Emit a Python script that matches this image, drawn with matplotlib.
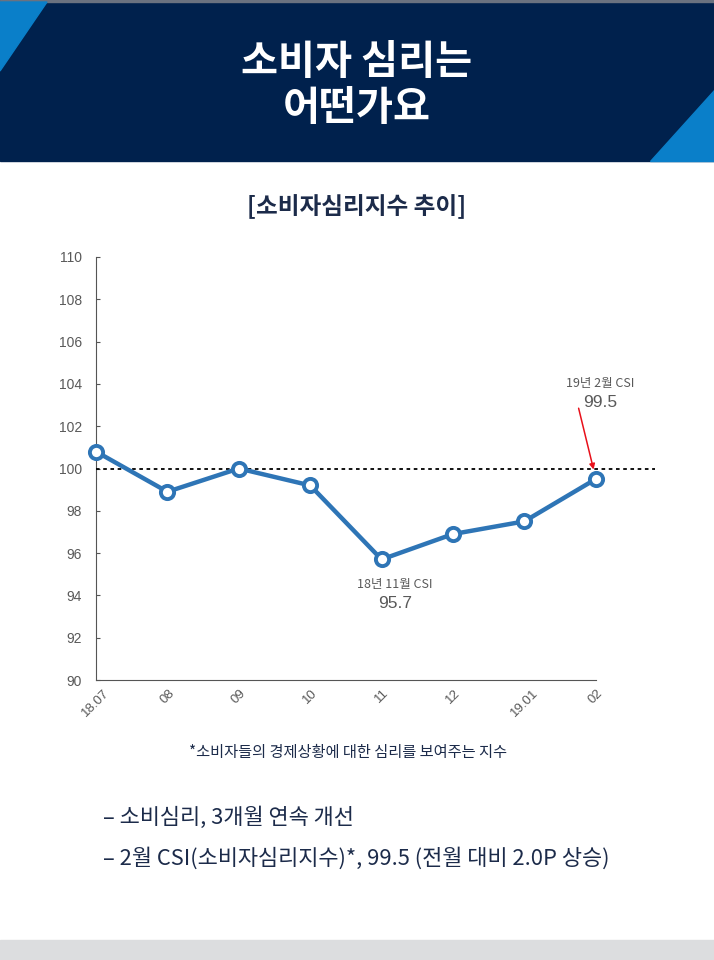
import numpy as np
import matplotlib
matplotlib.use("Agg")
import matplotlib.pyplot as plt
from matplotlib.patches import Rectangle, Polygon

plt.rcParams['font.family'] = ['Noto Sans CJK KR', 'DejaVu Sans']

# 데이터
months = ["18.07", "08", "09", "10", "11", "12", "19.01", "02"]
csi = [100.8, 98.9, 100.0, 99.2, 95.7, 96.9, 97.5, 99.5]
yticks = [90, 92, 94, 96, 98, 100, 102, 104, 106, 108, 110]

title_lines = ["소비자 심리는", "어떤가요"]
chart_title = "[소비자심리지수 추이]"
footnote = "*소비자들의 경제상황에 대한 심리를 보여주는 지수"
bullets = ["– 소비심리, 3개월 연속 개선",
           "– 2월 CSI(소비자심리지수)*, 99.5 (전월 대비 2.0P 상승)"]

navy = "#00214D"
light_blue = "#0A7FC9"
line_blue = "#2E75B6"
gray_text = "#595959"
text_navy = "#1C2B4A"

W, H = 714, 960
fig = plt.figure(figsize=(W / 100, H / 100), dpi=100)
fig.patch.set_facecolor("white")

# 배경 (픽셀 좌표)
bg = fig.add_axes([0, 0, 1, 1])
bg.set_xlim(0, W)
bg.set_ylim(H, 0)
bg.axis("off")
bg.add_patch(Rectangle((0, 0), W, 161, color=navy, zorder=1))
bg.add_patch(Rectangle((0, 0), W, 2, color="#6a7280", zorder=2))
bg.add_patch(Polygon([(0, 2), (47, 2), (0, 71)], closed=True, color=light_blue, zorder=2))
bg.add_patch(Polygon([(714, 90), (714, 161), (650, 161)], closed=True, color=light_blue, zorder=2))
bg.add_patch(Rectangle((0, 940), W, 20, color="#DCDDDF", zorder=1))

bg.text(357, 62, title_lines[0], color="white", fontsize=29, fontweight="black",
        ha="center", va="center", zorder=3)
bg.text(357, 108, title_lines[1], color="white", fontsize=29, fontweight="black",
        ha="center", va="center", zorder=3)
bg.text(357, 207, chart_title, color=text_navy, fontsize=17, fontweight="bold",
        ha="center", va="center")
bg.text(348, 752, footnote, color=text_navy, fontsize=11, ha="center", va="center")
bg.text(103, 818, bullets[0], color=text_navy, fontsize=15.8, ha="left", va="center")
bg.text(103, 858, bullets[1], color=text_navy, fontsize=15.8, ha="left", va="center")

# 차트
ax = fig.add_axes([96 / W, 1 - 680 / H, 559 / W, 423 / H])
ax.patch.set_alpha(0)
x = np.arange(len(months))
ax.plot(x, csi, color=line_blue, lw=3.2, marker="o", markersize=9.5,
        markerfacecolor="white", markeredgecolor=line_blue, markeredgewidth=2.8,
        clip_on=False, zorder=4)
ax.plot([0, 7.83], [100, 100], color="black", lw=1.3, ls=(0, (2, 2)), zorder=3)

ax.set_xlim(0, 7.83)
ax.set_ylim(90, 110)
ax.set_yticks(yticks)
ax.set_yticklabels([str(v) for v in yticks], color=gray_text, fontsize=10,
                   family="Liberation Sans")
ax.set_xticks(x)
ax.set_xticklabels(months, rotation=45, ha="center", color=gray_text, fontsize=9.5,
                   family="Liberation Sans")
ax.tick_params(axis="y", direction="in", length=3, width=0.8, color="#555555", pad=10)
ax.tick_params(axis="x", length=0, pad=5)
ax.spines["top"].set_visible(False)
ax.spines["right"].set_visible(False)
ax.spines["left"].set_color("#555555")
ax.spines["bottom"].set_color("#555555")
ax.spines["bottom"].set_bounds(0, 7)

# 주석
ax.text(4.19, 94.5, "18년 11월 CSI", color=gray_text, fontsize=9, ha="center", va="center")
ax.text(4.19, 93.62, "95.7", color=gray_text, fontsize=12.5, ha="center", va="center",
        family="Liberation Sans")
ax.text(7.06, 104.0, "19년 2월 CSI", color=gray_text, fontsize=9, ha="center", va="center")
ax.text(7.06, 103.12, "99.5", color=gray_text, fontsize=12.5, ha="center", va="center",
        family="Liberation Sans")
ax.annotate("", xy=(6.97, 99.95), xytext=(6.76, 102.85),
            arrowprops=dict(arrowstyle="-|>", color="#E8101A", lw=1.1,
                            mutation_scale=8, shrinkA=0, shrinkB=0))

fig.savefig("out.png", dpi=100)
